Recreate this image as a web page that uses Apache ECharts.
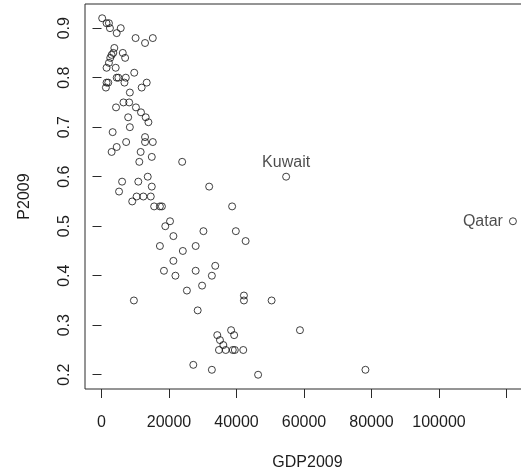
<!DOCTYPE html>
<html>
<head>
<meta charset="utf-8">
<script src="https://cdn.jsdelivr.net/npm/echarts@6/dist/echarts.min.js"></script>
<style>
  html, body { margin: 0; padding: 0; background: #fff; }
  #chart { width: 521px; height: 471px; }
</style>
</head>
<body>
<div id="chart"></div>
<script>
// GDP per capita (2009) against P2009, one value per country
const gdp2009 = [
  200, 1500, 2200, 2500, 5700, 4500, 10100, 15200, 12900, 3800,
  3500, 6300, 3000, 2600, 2200, 7000, 1500, 4200, 9700, 4500,
  5000, 7200, 1500, 2000, 6800, 13400, 1300, 11900, 8400, 6500,
  8200, 4300, 10200, 11700, 13100, 7900, 13900, 8400, 3300, 12900,
  12900, 15200, 7300, 3000, 4500, 11600, 14900, 11200, 23900, 13700,
  6100, 10900, 14900, 31900, 5200, 10400, 12400, 14600, 9100, 15600,
  17300, 17900, 38700, 20300, 18900, 21300, 30200, 39800, 42700, 17300,
  27900, 24100, 21300, 33700, 18500, 27900, 21900, 32700, 29800, 25300,
  42200, 42200, 50400, 9600, 28500, 38400, 58800, 39300, 34300, 35100,
  36100, 34800, 36800, 38900, 39500, 42000, 27200, 32700, 78200, 46400
];
const p2009 = [
  0.92, 0.91, 0.91, 0.90, 0.90, 0.89, 0.88, 0.88, 0.87, 0.86,
  0.85, 0.85, 0.846, 0.84, 0.83, 0.84, 0.82, 0.82, 0.81, 0.80,
  0.80, 0.80, 0.79, 0.79, 0.79, 0.79, 0.78, 0.78, 0.77, 0.75,
  0.75, 0.74, 0.74, 0.73, 0.72, 0.72, 0.71, 0.70, 0.69, 0.68,
  0.67, 0.67, 0.67, 0.65, 0.66, 0.65, 0.64, 0.63, 0.63, 0.60,
  0.59, 0.59, 0.58, 0.58, 0.57, 0.56, 0.56, 0.56, 0.55, 0.54,
  0.54, 0.54, 0.54, 0.51, 0.50, 0.48, 0.49, 0.49, 0.47, 0.46,
  0.46, 0.45, 0.43, 0.42, 0.41, 0.41, 0.40, 0.40, 0.38, 0.37,
  0.36, 0.35, 0.35, 0.35, 0.33, 0.29, 0.29, 0.28, 0.28, 0.27,
  0.26, 0.25, 0.25, 0.25, 0.25, 0.25, 0.22, 0.21, 0.21, 0.20
];

// Countries annotated by name
const labelNames = ['Kuwait', 'Qatar'];
const labelGdp = [54700, 121900];
const labelP = [0.60, 0.51];

// Axis ticks and labels
const xTicks = [0, 20000, 40000, 60000, 80000, 100000, 120000];
const xTickLabels = [0, 20000, 40000, 60000, 80000, 100000];
const yTicks = [0.2, 0.3, 0.4, 0.5, 0.6, 0.7, 0.8, 0.9];

const FONT = "'Liberation Sans', Arial, sans-serif";
const INK = '#1e1e1e';

const pointStyle = {
  color: 'transparent',
  borderColor: '#111',
  borderWidth: 1
};

const points = gdp2009.map((g, i) => [g, p2009[i]]);
const namedPoints = labelNames.map((n, i) => ({
  name: n,
  value: [labelGdp[i], labelP[i]],
  label: i === 0
    ? { position: 'top', distance: 2 }
    : { position: 'left', distance: 6 }
}));

const chart = echarts.init(document.getElementById('chart'), null, { renderer: 'canvas' });

chart.setOption({
  animation: false,
  backgroundColor: '#fff',
  textStyle: { fontFamily: FONT },
  grid: {
    left: 85,
    top: 4,
    width: 445,
    height: 385,
    outerBoundsMode: 'none',
    containLabel: false,
    show: true,
    borderColor: '#2a2a2a',
    borderWidth: 1,
    backgroundColor: 'transparent'
  },
  xAxis: {
    type: 'value',
    min: -4890,
    max: 126960,
    name: 'GDP2009',
    nameLocation: 'middle',
    nameGap: 66,
    nameTextStyle: { color: INK, fontSize: 16, fontFamily: FONT },
    axisLine: { show: false },
    axisTick: { show: true, length: 9, customValues: xTicks, lineStyle: { color: '#2a2a2a' } },
    axisLabel: {
      customValues: xTickLabels,
      margin: 26,
      color: INK,
      fontSize: 16,
      fontFamily: FONT,
      formatter: v => String(v)
    },
    splitLine: { show: false }
  },
  yAxis: {
    type: 'value',
    min: 0.1712,
    max: 0.9488,
    name: 'P2009',
    nameLocation: 'middle',
    nameGap: 52,
    nameRotate: 90,
    nameTextStyle: { color: INK, fontSize: 16, fontFamily: FONT },
    axisLine: { show: false },
    axisTick: { show: true, length: 9, customValues: yTicks, lineStyle: { color: '#2a2a2a' } },
    axisLabel: {
      customValues: yTicks,
      rotate: 90,
      margin: 12,
      color: INK,
      fontSize: 16,
      fontFamily: FONT,
      formatter: v => (Math.round(v * 10) / 10).toFixed(1)
    },
    splitLine: { show: false }
  },
  series: [
    {
      type: 'scatter',
      data: points,
      symbol: 'circle',
      symbolSize: 7,
      itemStyle: pointStyle,
      emphasis: { disabled: true }
    },
    {
      type: 'scatter',
      data: namedPoints,
      symbol: 'circle',
      symbolSize: 7,
      itemStyle: pointStyle,
      emphasis: { disabled: true },
      label: {
        show: true,
        formatter: '{b}',
        color: INK,
        fontSize: 16,
        fontFamily: FONT
      }
    }
  ]
});
</script>
</body>
</html>
